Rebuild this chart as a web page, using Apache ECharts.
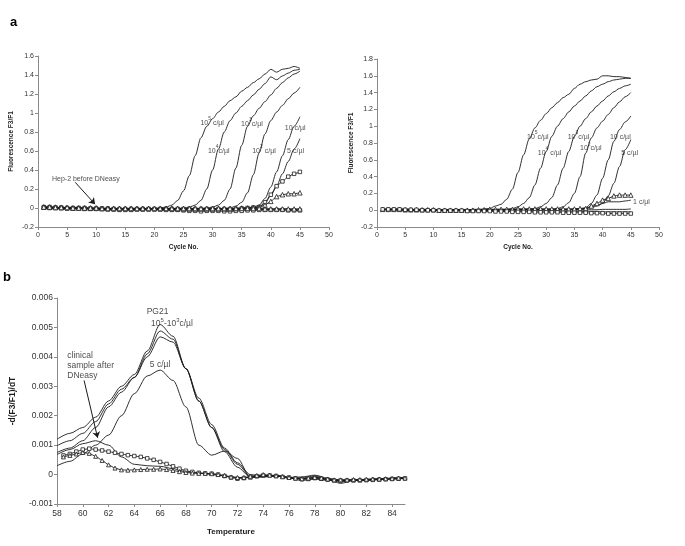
<!DOCTYPE html>
<html><head><meta charset="utf-8">
<script src="https://cdn.jsdelivr.net/npm/echarts@6/dist/echarts.min.js"></script>
<style>html,body{margin:0;padding:0;background:#fff}#c{width:685px;height:546px}</style>
</head><body><div id="c"></div>
<script>
// ---------- Panel a (left) : amplification curves, x = cycle number ----------
const cycles = [1,2,3,4,5,6,7,8,9,10,11,12,13,14,15,16,17,18,19,20,21,22,23,24,25,26,27,28,29,30,31,32,33,34,35,36,37,38,39,40,41,42,43,44,45];
const L_1e5 = [0.01,0.01,0.005,0.005,0,0,0,-0.005,-0.005,-0.005, -0.005,-0.01,-0.01,-0.01,-0.01,-0.01,-0.01,-0.01,-0.01,-0.005, 0,0.01,0.03,0.08,0.18,0.34,0.55,0.74,0.86,0.94, 1.01,1.07,1.13,1.17,1.23,1.27,1.32,1.36,1.41,1.46, 1.43,1.46,1.47,1.49,1.47];
const L_1e4 = [0.005,0.005,0,0,0,-0.005,-0.005,-0.005,-0.01,-0.01, -0.01,-0.01,-0.01,-0.01,-0.01,-0.01,-0.01,-0.01,-0.01,-0.01, -0.01,-0.01,-0.01,-0.005,0,0.01,0.03,0.08,0.2,0.4, 0.62,0.8,0.92,1.0,1.07,1.13,1.19,1.25,1.31,1.38, 1.35,1.39,1.42,1.45,1.46];
const L_1e3 = [0,0,0,-0.005,-0.005,-0.005,-0.005,-0.01,-0.01,-0.01, -0.01,-0.01,-0.01,-0.01,-0.01,-0.01,-0.01,-0.01,-0.01,-0.01, -0.01,-0.01,-0.01,-0.01,-0.01,-0.01,-0.01,-0.005,0,0.01, 0.03,0.08,0.2,0.42,0.66,0.86,0.97,1.05,1.12,1.19, 1.26,1.32,1.37,1.41,1.44];
const L_1e2 = [0,0,0,0,-0.005,-0.005,-0.005,-0.005,-0.005,-0.01, -0.01,-0.01,-0.01,-0.01,-0.01,-0.01,-0.01,-0.01,-0.01,-0.01, -0.01,-0.01,-0.01,-0.01,-0.015,-0.015,-0.015,-0.01,-0.01,-0.01, -0.01,-0.005,0,0.02,0.06,0.16,0.35,0.58,0.78,0.92, 1.01,1.08,1.15,1.21,1.27];
const L_10 = [0.005,0.005,0,0,0,0,-0.005,-0.005,-0.005,-0.005, -0.01,-0.01,-0.01,-0.01,-0.01,-0.01,-0.01,-0.01,-0.01,-0.01, -0.01,-0.01,-0.01,-0.015,-0.015,-0.015,-0.015,-0.015,-0.01,-0.01, -0.01,-0.01,-0.01,-0.005,0,0.005,0.01,0.03,0.1,0.22, 0.38,0.55,0.72,0.86,0.96];
const L_5 = [0,0,0,0,0,-0.005,-0.005,-0.005,-0.005,-0.005, -0.01,-0.01,-0.01,-0.01,-0.01,-0.01,-0.01,-0.01,-0.01,-0.01, -0.01,-0.01,-0.015,-0.015,-0.015,-0.015,-0.015,-0.015,-0.015,-0.01, -0.01,-0.01,-0.01,-0.01,-0.005,0,0.005,0.01,0.05,0.13, 0.23,0.36,0.49,0.62,0.73];
const L_neg1 = [0.005,0.005,0.005,0,0,0,0,0,-0.005,-0.005, -0.005,-0.005,-0.005,-0.005,-0.005,-0.005,-0.005,-0.005,-0.005,-0.005, -0.005,-0.005,-0.005,-0.005,-0.005,-0.005,-0.01,-0.01,-0.01,-0.01, -0.01,-0.01,-0.01,-0.01,-0.01,-0.01,-0.01,-0.01,-0.01,-0.01, -0.01,-0.01,-0.01,-0.015,-0.015];
const L_neg2 = [0,0,0,0,-0.005,-0.005,-0.005,-0.005,-0.005,-0.005, -0.01,-0.01,-0.01,-0.01,-0.01,-0.01,-0.01,-0.01,-0.01,-0.01, -0.01,-0.01,-0.015,-0.015,-0.015,-0.015,-0.015,-0.015,-0.015,-0.015, -0.015,-0.015,-0.015,-0.015,-0.015,-0.015,-0.015,-0.015,-0.015,-0.02, -0.02,-0.02,-0.02,-0.02,-0.025];
const L_sqRise = [0.01,0.01,0.005,0.005,0,0,0,0,-0.005,-0.005, -0.005,-0.005,-0.01,-0.01,-0.01,-0.01,-0.01,-0.01,-0.01,-0.01, -0.01,-0.01,-0.01,-0.01,-0.01,-0.01,-0.01,-0.01,-0.01,-0.01, -0.01,-0.01,-0.01,-0.01,-0.005,0,0.005,0.01,0.06,0.14, 0.23,0.28,0.33,0.36,0.38];
const L_sqNeg = [0.005,0,0,0,-0.005,-0.005,-0.005,-0.01,-0.01,-0.01, -0.01,-0.015,-0.015,-0.02,-0.02,-0.02,-0.015,-0.015,-0.015,-0.015, -0.015,-0.02,-0.02,-0.02,-0.025,-0.03,-0.03,-0.035,-0.03,-0.03, -0.03,-0.035,-0.035,-0.03,-0.03,-0.025,-0.025,-0.02,-0.02,-0.02, -0.02,-0.02,-0.025,-0.025,-0.025];
const L_triRise = [0.01,0.01,0.01,0.005,0.005,0,0,0,0,0, -0.005,-0.005,-0.005,-0.005,-0.005,-0.005,-0.005,-0.005,-0.005,-0.005, -0.005,-0.005,-0.005,-0.01,-0.01,-0.01,-0.01,-0.01,-0.01,-0.01, -0.01,-0.01,-0.01,-0.005,0,0,0.005,0.01,0.03,0.07, 0.12,0.14,0.15,0.15,0.16];
const L_triFlat = [0.01,0.01,0.005,0.005,0.005,0,0,0,0,0, -0.005,-0.005,-0.005,-0.005,-0.005,-0.005,-0.005,-0.005,-0.005,-0.005, -0.005,-0.005,-0.005,-0.005,-0.005,-0.005,-0.005,-0.005,-0.005,-0.005, -0.005,-0.005,-0.005,-0.005,-0.005,-0.005,-0.005,-0.005,-0.01,-0.01, -0.01,-0.01,-0.01,-0.01,-0.01];

// ---------- Panel a (right) ----------
const R_1e5 = [0.01,0.01,0.015,0.015,0.015,0.01,0.01,0.01,0.01,0.005, 0.005,0.005,0.005,0.005,0.005,0.005,0.01,0.01,0.015,0.02, 0.05,0.07,0.13,0.25,0.45,0.66,0.85,0.98,1.07,1.15, 1.22,1.28,1.34,1.38,1.45,1.5,1.53,1.55,1.56,1.6, 1.6,1.59,1.59,1.58,1.57];
const R_1e4 = [0.01,0.01,0.01,0.01,0.01,0.01,0.005,0.005,0.005,0.005, 0.005,0,0,0,0,0,0.005,0.005,0.01,0.01, 0.01,0.01,0.01,0.02,0.04,0.08,0.15,0.3,0.5,0.7, 0.88,1.0,1.09,1.17,1.24,1.3,1.36,1.42,1.47,1.5, 1.53,1.55,1.56,1.57,1.57];
const R_1e3 = [0.01,0.01,0.01,0.01,0.005,0.005,0.005,0.005,0.005,0.005, 0,0,0,0,0,0,0,0.005,0.005,0.005, 0.01,0.01,0.01,0.01,0.01,0.01,0.01,0.02,0.04,0.08, 0.15,0.3,0.5,0.7,0.88,1.0,1.09,1.17,1.24,1.3, 1.36,1.41,1.45,1.48,1.5];
const R_1e2 = [0.01,0.01,0.01,0.005,0.005,0.005,0.005,0.005,0.005,0, 0,0,0,0,0,0,0,0,0.005,0.005, 0.005,0.005,0.01,0.01,0.01,0.01,0.01,0.01,0.01,0.01, 0.01,0.02,0.04,0.09,0.2,0.4,0.68,0.86,0.98,1.06, 1.14,1.22,1.29,1.35,1.4];
const R_10 = [0.01,0.01,0.005,0.005,0.005,0.005,0.005,0,0,0, 0,0,0,0,0,0,0,0,0,0.005, 0.005,0.005,0.005,0.01,0.01,0.01,0.01,0.01,0.01,0.01, 0.01,0.01,0.01,0.01,0.015,0.02,0.03,0.08,0.18,0.38, 0.6,0.82,0.96,1.05,1.12];
const R_5 = [0.01,0.005,0.005,0.005,0.005,0,0,0,0,0, 0,0,0,0,0,0,0,0,0.005,0.005, 0.005,0.005,0.005,0.005,0.005,0.01,0.01,0.01,0.01,0.01, 0.01,0.01,0.01,0.01,0.01,0.015,0.02,0.03,0.05,0.08, 0.17,0.32,0.52,0.72,0.84];
const R_1 = [0.005,0.005,0.005,0,0,0,0,0,0,0, 0,0,0,0,0,0,0,0,0,0, 0,0,0.005,0.005,0.005,0.005,0.005,0.005,0.005,0.005, 0.005,0.005,0.005,0.005,0.01,0.01,0.02,0.04,0.06,0.08, 0.1,0.1,0.1,0.11,0.12];
const R_flat = [0.01,0.01,0.01,0.01,0.01,0.005,0.005,0.005,0.005,0.005, 0.005,0.005,0.005,0.005,0.005,0.005,0.005,0.005,0.005,0.005, 0.005,0.005,0.005,0.005,0.005,0.005,0.005,0.005,0.005,0.005, 0.005,0.005,0.005,0.005,0.005,0.005,0.005,0.005,0.005,0.01, 0.01,0.01,0.01,0.01,0.015];
const R_neg = [0.005,0.005,0.005,0.005,0,0,0,0,0,0, -0.005,-0.005,-0.005,-0.005,-0.005,-0.005,-0.005,-0.005,-0.005,-0.01, -0.01,-0.01,-0.01,-0.01,-0.01,-0.01,-0.01,-0.01,-0.01,-0.01, -0.01,-0.01,-0.015,-0.015,-0.015,-0.015,-0.015,-0.015,-0.015,-0.02, -0.02,-0.02,-0.02,-0.02,-0.02];
const R_tri = [0.01,0.01,0.01,0.01,0.005,0.005,0.005,0.005,0.005,0.005, 0,0,0,0,0,0,0,0.005,0.005,0.01, 0.01,0.01,0.01,0.01,0.015,0.015,0.015,0.015,0.015,0.015, 0.015,0.015,0.015,0.015,0.015,0.02,0.02,0.05,0.08,0.12, 0.14,0.17,0.18,0.18,0.18];
const R_sq = [0.01,0.01,0.01,0.01,0.005,0.005,0.005,0,0,0, -0.005,-0.005,-0.005,-0.005,-0.005,-0.01,-0.01,-0.01,-0.01,-0.01, -0.015,-0.015,-0.015,-0.02,-0.02,-0.02,-0.02,-0.025,-0.025,-0.025, -0.025,-0.025,-0.03,-0.03,-0.03,-0.03,-0.03,-0.035,-0.035,-0.035, -0.04,-0.04,-0.04,-0.04,-0.04];

// ---------- Panel b : melting curves, x = temperature ----------
const temps = [58,59,60,61,62,63,64,65,66,67,68,69,70,71,72,73,74,75,76,77,78,79,80,81,82,83,84,85];
const B_A = [0.0012,0.0014,0.0016,0.00195,0.0025,0.003,0.0034,0.0042,0.0051,0.0047,0.0036,0.0025,0.0016,0.00078,0.00025,-0.00008,-0.00005,-0.00002,-0.0001,-0.00012,-0.00005,-0.00015,-0.0003,-0.0002,-0.00018,-0.00016,-0.00014,-0.00012];
const B_B = [0.00098,0.00115,0.0014,0.0018,0.0024,0.0029,0.0033,0.0041,0.00488,0.0046,0.0036,0.0025,0.0016,0.00085,0.00035,-0.00005,-0.00008,-0.00003,-0.00012,-0.00015,-0.0001,-0.00018,-0.00025,-0.0002,-0.0002,-0.00017,-0.00015,-0.00013];
const B_C = [0.00075,0.0009,0.00115,0.0016,0.0023,0.0028,0.0033,0.004,0.00468,0.0045,0.0036,0.0026,0.0017,0.0009,0.0004,0.0,-0.00006,-0.00005,-0.00012,-0.0002,-0.00015,-0.0002,-0.0002,-0.0002,-0.00018,-0.00016,-0.00012,-0.0001];
const B_5 = [0.0003,0.00045,0.0007,0.001,0.00134,0.002,0.00275,0.00335,0.00355,0.0032,0.0023,0.001,0.00066,0.0008,0.00055,-0.0001,-0.00008,-0.00005,-0.0001,-0.00008,-0.00002,-0.00012,-0.00022,-0.00018,-0.00017,-0.00015,-0.00013,-0.00011];
const B_D = [0.00068,0.00085,0.00105,0.00115,0.001,0.0006,0.00035,0.0003,0.00028,0.0002,0.0001,0.00005,0.0,-0.00005,-0.0001,-0.0001,-0.00005,-0.00005,-0.0001,-0.00015,-0.0001,-0.00015,-0.00018,-0.00018,-0.00017,-0.00015,-0.00012,-0.0001];
const tempsHalf = [58.5,59,59.5,60,60.5,61,61.5,62,62.5,63,63.5,64,64.5,65,65.5,66,66.5,67,67.5,68,68.5,69,69.5,70,70.5,71,71.5,72,72.5,73,73.5,74,74.5,75,75.5,76,76.5,77,77.5,78,78.5,79,79.5,80,80.5,81,81.5,82,82.5,83,83.5,84,84.5,85];
const B_sq = [0.00065,0.0007,0.00078,0.00085,0.00088,0.00085,0.00082,0.00078,0.00074,0.0007,0.00066,0.00063,0.0006,0.00055,0.0005,0.00043,0.00036,0.00028,0.0002,0.00013,0.00009,0.00006,0.00004,0.00003,0.0,-0.00005,-0.0001,-0.00014,-0.00012,-0.0001,-0.00006,-0.00003,-0.00003,-0.00005,-0.00008,-0.0001,-0.00013,-0.00016,-0.00015,-0.00012,-0.00014,-0.00017,-0.0002,-0.0002,-0.0002,-0.0002,-0.0002,-0.00019,-0.00018,-0.00017,-0.00016,-0.00015,-0.00014,-0.00013];
const B_tri = [0.0006,0.00065,0.0007,0.00075,0.00072,0.00062,0.00048,0.00033,0.00022,0.00016,0.00015,0.00016,0.00017,0.00018,0.00018,0.00019,0.00017,0.00014,0.0001,0.00007,0.00005,0.00004,0.00004,0.00003,0.0,-0.00003,-0.00008,-0.0001,-0.0001,-0.00006,-0.00003,0.0,-0.00002,-0.00004,-0.00007,-0.0001,-0.00012,-0.00014,-0.00012,-0.0001,-0.00012,-0.00015,-0.00018,-0.00018,-0.00018,-0.00017,-0.00017,-0.00016,-0.00015,-0.00015,-0.00014,-0.00013,-0.00012,-0.00012];

// ---------- Annotations (data coordinates) ----------
const leftNotes = [
  {x:27.9, y:0.91, sup:'5', tail:' c/\u00b5l'}, {x:29.2, y:0.62, sup:'4', tail:'c/\u00b5l'},
  {x:34.9, y:0.90, sup:'3', tail:'c/\u00b5l'}, {x:36.8, y:0.62, sup:'2', tail:' c/\u00b5l'},
  {x:42.4, y:0.86, text:'10 c/\u00b5l'}, {x:42.8, y:0.61, text:'5 c/\u00b5l'},
  {x:2.4, y:0.32, text:'Hep-2 before DNeasy'}
];
const rightNotes = [
  {x:26.6, y:0.89, sup:'5', tail:'c/\u00b5l'}, {x:28.5, y:0.70, sup:'4', tail:' c/\u00b5l'},
  {x:33.8, y:0.89, sup:'3', tail:'c/\u00b5l'}, {x:36.0, y:0.755, sup:'2', tail:'c/\u00b5l'},
  {x:41.3, y:0.89, text:'10 c/\u00b5l'}, {x:43.3, y:0.70, text:'5 c/\u00b5l'},
  {x:45.4, y:0.115, text:'1 c/\u00b5l'}
];
const leftArrow = [[6.4, 0.27], [9.8, 0.04]];
const bArrow = [[60.1, 0.0032], [61.15, 0.00125]];

const FONT = 'Liberation Sans, Arial, sans-serif';
const INK = '#1a1a1a';

function pairs(xs, ys){ return xs.map((x,i)=>[x, ys[i]]); }
function line(gi, xs, ys, extra){
  return Object.assign({type:'line', xAxisIndex:gi, yAxisIndex:gi, data:pairs(xs,ys), showSymbol:false,
    smooth:0.3, smoothMonotone:'x', lineStyle:{color:INK, width:0.9}, silent:true, animation:false, z:3}, extra||{});
}
function marked(gi, xs, ys, sym, size){
  return line(gi, xs, ys, {showSymbol:true, symbol:sym, symbolSize:size, itemStyle:{color:'#fff', borderColor:INK, borderWidth:0.8}, smooth:0.2});
}
function noteSeries(gi, notes, fs){
  return {type:'scatter', xAxisIndex:gi, yAxisIndex:gi, symbolSize:0, silent:true, animation:false, z:5,
    data: notes.map(n=>({value:[n.x,n.y], label:{show:true, position:'right', distance:0,
      formatter: n.sup ? '{n|10}{s|'+n.sup+'}{n|'+n.tail+'}' : '{n|'+n.text+'}',
      rich:{n:{fontSize:fs, fontFamily:FONT, color:INK, lineHeight:fs+3, verticalAlign:'bottom'},
            s:{fontSize:fs-2, fontFamily:FONT, color:INK, lineHeight:fs+3, verticalAlign:'top', padding:[0,0,3,0]}}}}))};
}
function arrow(gi, pts){
  return {type:'lines', coordinateSystem:'cartesian2d', xAxisIndex:gi, yAxisIndex:gi, silent:true, animation:false,
    symbol:['none','arrow'], symbolSize:6, lineStyle:{color:INK, width:1, opacity:1}, z:6,
    data:[{coords:pts}]};
}
function xAxis(gi, min, max, interval, name, gap, fs, nfs){
  return {type:'value', gridIndex:gi, min, max, interval, name, nameLocation:'middle', nameGap:gap,
    nameTextStyle:{fontFamily:FONT, fontSize:nfs, fontWeight:'bold', color:INK},
    axisLine:{onZero:false, lineStyle:{color:'#8a8a8a', width:1}}, axisTick:{length:3, lineStyle:{color:'#8a8a8a'}},
    axisLabel:{fontFamily:FONT, fontSize:fs, color:'#333', margin:5, showMaxLabel: max%interval===0},
    splitLine:{show:false}};
}
function yAxis(gi, min, max, interval, name, gap, fs, nfs){
  return {type:'value', gridIndex:gi, min, max, interval, name, nameLocation:'middle', nameGap:gap, nameRotate:90,
    nameTextStyle:{fontFamily:FONT, fontSize:nfs, fontWeight:'bold', color:INK},
    axisLine:{show:true, lineStyle:{color:'#8a8a8a', width:1}}, axisTick:{show:true, length:3, lineStyle:{color:'#8a8a8a'}},
    axisLabel:{fontFamily:FONT, fontSize:fs, color:'#333', margin:4},
    splitLine:{show:false}};
}

const chart = echarts.init(document.getElementById('c'), null, {renderer:'canvas'});
chart.setOption({
  animation:false,
  backgroundColor:'#fff',
  grid:[
    {left:38, top:56, width:291, height:171},
    {left:377, top:59, width:282, height:168},
    {left:56, top:298, width:349, height:206}
  ],
  xAxis:[
    xAxis(0, 0, 50, 5, 'Cycle No.', 17, 7, 6.5),
    xAxis(1, 0, 50, 5, 'Cycle No.', 17, 7, 6.5),
    xAxis(2, 58, 85, 2, 'Temperature', 24, 8.5, 8)
  ],
  yAxis:[
    yAxis(0, -0.2, 1.6, 0.2, 'Fluorescence F3/F1', 23, 7, 6.5),
    yAxis(1, -0.2, 1.8, 0.2, 'Fluorescence F3/F1', 22, 7, 6.5),
    yAxis(2, -0.001, 0.006, 0.001, '-d(F3/F1)/dT', 40, 8.5, 8.5)
  ],
  graphic:[
    {type:'text', left:10, top:16, style:{text:'a', font:'bold 13px '+FONT, fill:'#000'}},
    {type:'text', left:3, top:271, style:{text:'b', font:'bold 13px '+FONT, fill:'#000'}}
  ],
  series:[
    line(0, cycles, L_1e5), line(0, cycles, L_1e4), line(0, cycles, L_1e3), line(0, cycles, L_1e2),
    line(0, cycles, L_10), line(0, cycles, L_5), line(0, cycles, L_neg1), line(0, cycles, L_neg2),
    marked(0, cycles, L_sqRise, 'rect', 3.5), marked(0, cycles, L_sqNeg, 'rect', 3.5),
    marked(0, cycles, L_triRise, 'triangle', 4.5), marked(0, cycles, L_triFlat, 'triangle', 4.5),
    noteSeries(0, leftNotes, 7), arrow(0, leftArrow),

    line(1, cycles, R_1e5), line(1, cycles, R_1e4), line(1, cycles, R_1e3), line(1, cycles, R_1e2),
    line(1, cycles, R_10), line(1, cycles, R_5), line(1, cycles, R_1), line(1, cycles, R_flat), line(1, cycles, R_neg),
    marked(1, cycles, R_tri, 'triangle', 4.5), marked(1, cycles, R_sq, 'rect', 3.5),
    noteSeries(1, rightNotes, 7),

    line(2, temps, B_A), line(2, temps, B_B), line(2, temps, B_C), line(2, temps, B_5), line(2, temps, B_D),
    marked(2, tempsHalf, B_sq, 'rect', 3.5), marked(2, tempsHalf, B_tri, 'triangle', 4),
    {type:'scatter', xAxisIndex:2, yAxisIndex:2, symbolSize:0, silent:true, z:5,
     data:[
      {value:[65.8, 0.00555], label:{show:true, position:'inside', formatter:'PG21', fontFamily:FONT, fontSize:8.5, color:INK}},
      {value:[65.3, 0.00515], label:{show:true, position:'right', distance:0, formatter:'{n|10}{s|5}{n|-10}{s|3}{n|c/\u00b5l}',
        rich:{n:{fontSize:8.5, fontFamily:FONT, color:INK, lineHeight:11, verticalAlign:'bottom'}, s:{fontSize:6, fontFamily:FONT, color:INK, lineHeight:11, verticalAlign:'top'}}}},
      {value:[66.0, 0.00372], label:{show:true, position:'inside', formatter:'5 c/\u00b5l', fontFamily:FONT, fontSize:8.5, color:INK}},
      {value:[58.8, 0.0037], label:{show:true, position:'right', distance:0, formatter:'clinical\nsample after\nDNeasy', fontFamily:FONT, fontSize:8.5, lineHeight:9.8, color:INK, align:'left'}}
     ]},
    arrow(2, bArrow)
  ]
});
</script></body></html>
